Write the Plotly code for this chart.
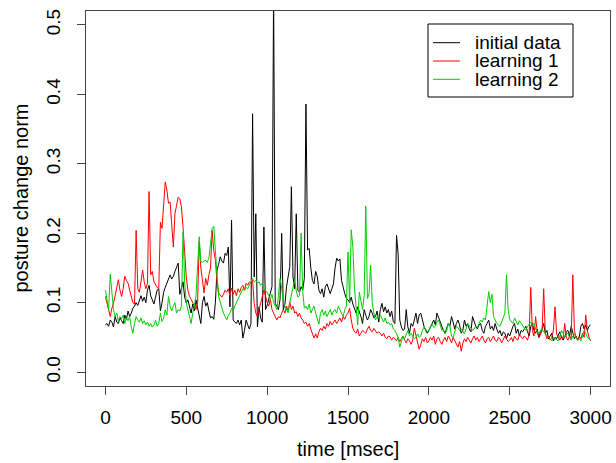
import plotly.graph_objects as go

# time axis: every 10 msec from 0 to 3000
time_ms = list(range(0, 3001, 10))

initial_data = [
    0.068, 0.070, 0.066, 0.075, 0.072, 0.065, 0.080, 0.072, 0.070, 0.078,
    0.074, 0.070, 0.082, 0.076, 0.088, 0.080, 0.085, 0.092, 0.095, 0.100,
    0.096, 0.104, 0.110, 0.102, 0.108, 0.100, 0.118, 0.125, 0.110, 0.104,
    0.098, 0.108, 0.118, 0.120, 0.088, 0.100, 0.115, 0.122, 0.128, 0.132,
    0.140, 0.134, 0.138, 0.145, 0.152, 0.157, 0.112, 0.120, 0.130, 0.108,
    0.100, 0.104, 0.092, 0.085, 0.098, 0.088, 0.104, 0.094, 0.080, 0.070,
    0.100, 0.109, 0.095, 0.100, 0.088, 0.078, 0.080, 0.076, 0.100, 0.147,
    0.155, 0.166, 0.160, 0.157, 0.171, 0.168, 0.180, 0.094, 0.219, 0.075,
    0.072, 0.070, 0.075, 0.068, 0.075, 0.049, 0.060, 0.075, 0.068, 0.062,
    0.070, 0.372, 0.137, 0.228, 0.065, 0.094, 0.078, 0.072, 0.209, 0.090,
    0.096, 0.104, 0.112, 0.123, 0.550, 0.099, 0.095, 0.090, 0.105, 0.200,
    0.090, 0.098, 0.123, 0.140, 0.152, 0.267, 0.137, 0.120, 0.228, 0.118,
    0.115, 0.123, 0.118, 0.135, 0.386, 0.176, 0.178, 0.150, 0.132, 0.127,
    0.145, 0.138, 0.118, 0.113, 0.120, 0.108, 0.123, 0.127, 0.118, 0.113,
    0.120, 0.127, 0.150, 0.164, 0.160, 0.163, 0.132, 0.120, 0.113, 0.106,
    0.104, 0.100, 0.108, 0.098, 0.090, 0.085, 0.094, 0.088, 0.080, 0.070,
    0.090, 0.082, 0.075, 0.080, 0.090, 0.085, 0.078, 0.080, 0.088, 0.072,
    0.090, 0.099, 0.087, 0.094, 0.085, 0.090, 0.080, 0.088, 0.073, 0.070,
    0.197, 0.170, 0.075, 0.065, 0.060, 0.062, 0.090, 0.065, 0.056, 0.070,
    0.066, 0.075, 0.085, 0.070, 0.082, 0.085, 0.075, 0.066, 0.060, 0.056,
    0.060, 0.066, 0.070, 0.075, 0.068, 0.085, 0.078, 0.072, 0.066, 0.060,
    0.056, 0.062, 0.070, 0.066, 0.080, 0.072, 0.062, 0.070, 0.075, 0.068,
    0.056, 0.060, 0.075, 0.066, 0.070, 0.062, 0.058, 0.080, 0.072, 0.066,
    0.062, 0.068, 0.070, 0.060, 0.056, 0.066, 0.070, 0.075, 0.062, 0.066,
    0.060, 0.070, 0.062, 0.056, 0.060, 0.052, 0.058, 0.056, 0.048, 0.056,
    0.052, 0.060, 0.066, 0.070, 0.056, 0.062, 0.052, 0.060, 0.058, 0.062,
    0.066, 0.058, 0.052, 0.066, 0.070, 0.060, 0.056, 0.062, 0.050, 0.058,
    0.062, 0.070, 0.056, 0.060, 0.048, 0.052, 0.056, 0.045, 0.050, 0.048,
    0.052, 0.058, 0.050, 0.046, 0.050, 0.058, 0.060, 0.052, 0.066, 0.056,
    0.048, 0.052, 0.046, 0.050, 0.066, 0.070, 0.062, 0.068, 0.060, 0.066,
    0.068,
]

learning_1 = [
    0.109, 0.100, 0.090, 0.080, 0.092, 0.099, 0.110, 0.120, 0.133, 0.118,
    0.109, 0.120, 0.138, 0.132, 0.128, 0.118, 0.109, 0.100, 0.098, 0.204,
    0.120, 0.115, 0.130, 0.147, 0.130, 0.120, 0.128, 0.260, 0.140, 0.145,
    0.130, 0.125, 0.122, 0.120, 0.216, 0.207, 0.245, 0.274, 0.262, 0.243,
    0.245, 0.215, 0.180, 0.228, 0.240, 0.252, 0.250, 0.238, 0.209, 0.170,
    0.137, 0.118, 0.109, 0.105, 0.100, 0.095, 0.090, 0.100, 0.188, 0.150,
    0.130, 0.114, 0.135, 0.125, 0.140, 0.150, 0.204, 0.175, 0.161, 0.130,
    0.114, 0.110, 0.108, 0.112, 0.118, 0.115, 0.120, 0.110, 0.121, 0.112,
    0.118, 0.110, 0.120, 0.115, 0.122, 0.125, 0.118, 0.128, 0.125, 0.130,
    0.128, 0.132, 0.099, 0.085, 0.080, 0.090, 0.100, 0.108, 0.118, 0.110,
    0.100, 0.095, 0.105, 0.090, 0.085, 0.080, 0.075, 0.080, 0.078, 0.085,
    0.090, 0.085, 0.095, 0.088, 0.101, 0.090, 0.095, 0.085, 0.087, 0.080,
    0.085, 0.078, 0.075, 0.070, 0.072, 0.066, 0.070, 0.062, 0.055, 0.049,
    0.055, 0.049, 0.058, 0.063, 0.060, 0.066, 0.062, 0.070, 0.066, 0.073,
    0.068, 0.072, 0.075, 0.070, 0.075, 0.078, 0.072, 0.080, 0.076, 0.082,
    0.085, 0.092, 0.075, 0.063, 0.058, 0.056, 0.062, 0.052, 0.056, 0.060,
    0.058, 0.056, 0.062, 0.066, 0.060, 0.058, 0.063, 0.060, 0.056, 0.058,
    0.056, 0.052, 0.056, 0.050, 0.048, 0.052, 0.051, 0.046, 0.050, 0.048,
    0.045, 0.050, 0.044, 0.048, 0.052, 0.046, 0.042, 0.048, 0.045, 0.040,
    0.046, 0.063, 0.052, 0.044, 0.033, 0.040, 0.048, 0.044, 0.050, 0.042,
    0.045, 0.050, 0.046, 0.052, 0.040, 0.048, 0.050, 0.044, 0.040, 0.046,
    0.050, 0.044, 0.052, 0.048, 0.042, 0.050, 0.046, 0.040, 0.036, 0.044,
    0.030, 0.042, 0.048, 0.044, 0.050, 0.046, 0.042, 0.048, 0.052, 0.046,
    0.050, 0.044, 0.048, 0.052, 0.046, 0.042, 0.048, 0.050, 0.044, 0.048,
    0.052, 0.046, 0.044, 0.050, 0.048, 0.042, 0.046, 0.052, 0.048, 0.044,
    0.046, 0.050, 0.044, 0.052, 0.048, 0.046, 0.054, 0.050, 0.048, 0.052,
    0.050, 0.046, 0.054, 0.122, 0.060, 0.052, 0.080, 0.058, 0.050, 0.054,
    0.060, 0.120, 0.056, 0.048, 0.052, 0.046, 0.050, 0.060, 0.094, 0.055,
    0.050, 0.046, 0.052, 0.048, 0.070, 0.050, 0.046, 0.052, 0.048, 0.140,
    0.060, 0.050, 0.046, 0.052, 0.048, 0.056, 0.050, 0.082, 0.060, 0.050,
    0.045,
]

learning_2 = [
    0.118, 0.100, 0.090, 0.141, 0.110, 0.090, 0.080, 0.085, 0.073, 0.080,
    0.077, 0.082, 0.070, 0.078, 0.074, 0.080, 0.065, 0.056, 0.070, 0.080,
    0.075, 0.072, 0.078, 0.070, 0.074, 0.068, 0.072, 0.066, 0.070, 0.065,
    0.068, 0.075, 0.066, 0.070, 0.085, 0.073, 0.078, 0.090, 0.082, 0.109,
    0.095, 0.088, 0.095, 0.100, 0.085, 0.090, 0.088, 0.095, 0.202, 0.130,
    0.100, 0.090, 0.080, 0.070, 0.085, 0.095, 0.110, 0.147, 0.195, 0.159,
    0.158, 0.160, 0.161, 0.158, 0.165, 0.185, 0.207, 0.210, 0.170, 0.140,
    0.109, 0.100, 0.095, 0.085, 0.080, 0.075, 0.082, 0.085, 0.092, 0.088,
    0.095, 0.099, 0.105, 0.110, 0.115, 0.120, 0.118, 0.122, 0.120, 0.125,
    0.128, 0.135, 0.130, 0.132, 0.128, 0.130, 0.125, 0.128, 0.120, 0.118,
    0.115, 0.110, 0.105, 0.112, 0.100, 0.095, 0.090, 0.110, 0.135, 0.120,
    0.100, 0.095, 0.090, 0.085, 0.100, 0.110, 0.120, 0.133, 0.117, 0.108,
    0.110, 0.200, 0.116, 0.092, 0.095, 0.090, 0.098, 0.085, 0.090, 0.095,
    0.085, 0.078, 0.069, 0.085, 0.090, 0.082, 0.088, 0.080, 0.085, 0.090,
    0.082, 0.088, 0.090, 0.085, 0.095, 0.090, 0.085, 0.080, 0.090, 0.095,
    0.173, 0.100, 0.205, 0.180, 0.120, 0.090, 0.068, 0.115, 0.100, 0.090,
    0.110, 0.239, 0.106, 0.112, 0.154, 0.100, 0.085, 0.075, 0.080, 0.078,
    0.082, 0.076, 0.072, 0.078, 0.070, 0.072, 0.068, 0.070, 0.062, 0.060,
    0.055, 0.050, 0.036, 0.045, 0.052, 0.048, 0.055, 0.060, 0.052, 0.056,
    0.052, 0.048, 0.050, 0.055, 0.050, 0.052, 0.060, 0.065, 0.062, 0.058,
    0.060, 0.066, 0.070, 0.064, 0.066, 0.072, 0.075, 0.068, 0.060, 0.062,
    0.055, 0.060, 0.070, 0.066, 0.052, 0.050, 0.060, 0.066, 0.064, 0.060,
    0.062, 0.058, 0.055, 0.062, 0.070, 0.066, 0.064, 0.060, 0.062, 0.066,
    0.064, 0.070, 0.075, 0.072, 0.078, 0.075, 0.095, 0.116, 0.100, 0.112,
    0.080, 0.075, 0.070, 0.068, 0.066, 0.072, 0.078, 0.085, 0.140, 0.090,
    0.076, 0.072, 0.070, 0.078, 0.072, 0.068, 0.074, 0.070, 0.066, 0.062,
    0.060, 0.066, 0.070, 0.072, 0.068, 0.070, 0.062, 0.058, 0.055, 0.060,
    0.062, 0.058, 0.055, 0.052, 0.050, 0.048, 0.045, 0.050, 0.048, 0.046,
    0.045, 0.052, 0.060, 0.056, 0.050, 0.054, 0.056, 0.050, 0.046, 0.052,
    0.055, 0.050, 0.046, 0.048, 0.045, 0.052, 0.060, 0.056, 0.050, 0.048,
    0.046,
]

series_names = ["initial data", "learning 1", "learning 2"]
series_colors = ["#000000", "#FF0000", "#00CD00"]
x_ticks = [0, 500, 1000, 1500, 2000, 2500, 3000]
y_ticks = [0.0, 0.1, 0.2, 0.3, 0.4, 0.5]
x_title = "time [msec]"
y_title = "posture change norm"

FONT = "Liberation Sans, Arial, Helvetica, sans-serif"
W, H = 616, 463
ML, MR, MT, MB = 86, 6, 11, 77
PW, PH = W - ML - MR, H - MT - MB


def px(xp):
    return (xp - ML) / PW


def py(yp):
    return (H - MB - yp) / PH


fig = go.Figure()
for name, color, vals in zip(series_names, series_colors,
                             [initial_data, learning_1, learning_2]):
    fig.add_trace(go.Scatter(
        x=time_ms, y=vals, mode="lines", name=name, showlegend=False,
        line=dict(color=color, width=1),
    ))

axis_common = dict(
    showgrid=False, zeroline=False, automargin=False,
    showline=True, mirror=True, linecolor="#444444", linewidth=1,
    ticks="outside", ticklen=8, tickwidth=1, tickcolor="#444444",
    tickfont=dict(family=FONT, size=19, color="#000000"),
)

shapes = [
    # legend box
    dict(type="rect", xref="paper", yref="paper",
         x0=px(428), x1=px(573), y0=py(97), y1=py(24),
         line=dict(color="#000000", width=1), fillcolor="white", layer="above"),
]
annotations = [
    dict(text=x_title, xref="paper", yref="paper", x=0.5, y=py(449),
         xanchor="center", yanchor="middle", showarrow=False,
         font=dict(family=FONT, size=20, color="#000000")),
    dict(text=y_title, xref="paper", yref="paper", x=px(20), y=0.5,
         xanchor="center", yanchor="middle", showarrow=False, textangle=-90,
         font=dict(family=FONT, size=20, color="#000000")),
]
row_y = [42.7, 61.0, 79.3]
for name, color, ry in zip(series_names, series_colors, row_y):
    shapes.append(dict(type="line", xref="paper", yref="paper",
                       x0=px(433), x1=px(460), y0=py(ry), y1=py(ry),
                       line=dict(color=color, width=1), layer="above"))
    annotations.append(dict(text=name, xref="paper", yref="paper",
                            x=px(474), y=py(ry), xanchor="left", yanchor="middle",
                            showarrow=False, borderpad=0,
                            font=dict(family=FONT, size=19, color="#000000")))

fig.update_layout(
    width=W, height=H,
    margin=dict(l=ML, r=MR, t=MT, b=MB, pad=0),
    paper_bgcolor="white", plot_bgcolor="white",
    font=dict(family=FONT, color="#000000"),
    xaxis=dict(
        range=[-120, 3120], tickvals=x_ticks,
        ticktext=[str(v) for v in x_ticks],
        ticklabelstandoff=6,
        **axis_common,
    ),
    yaxis=dict(
        range=[-0.02, 0.52], tickvals=y_ticks,
        ticktext=[f"{v:.1f}" for v in y_ticks],
        tickangle=-90,
        ticklabelstandoff=9,
        **axis_common,
    ),
    shapes=shapes,
    annotations=annotations,
    showlegend=False,
)

fig.write_html(
    "out.html",
    config={"displayModeBar": False},
    post_script="document.body.style.margin='0px';document.body.style.padding='0px';",
)
